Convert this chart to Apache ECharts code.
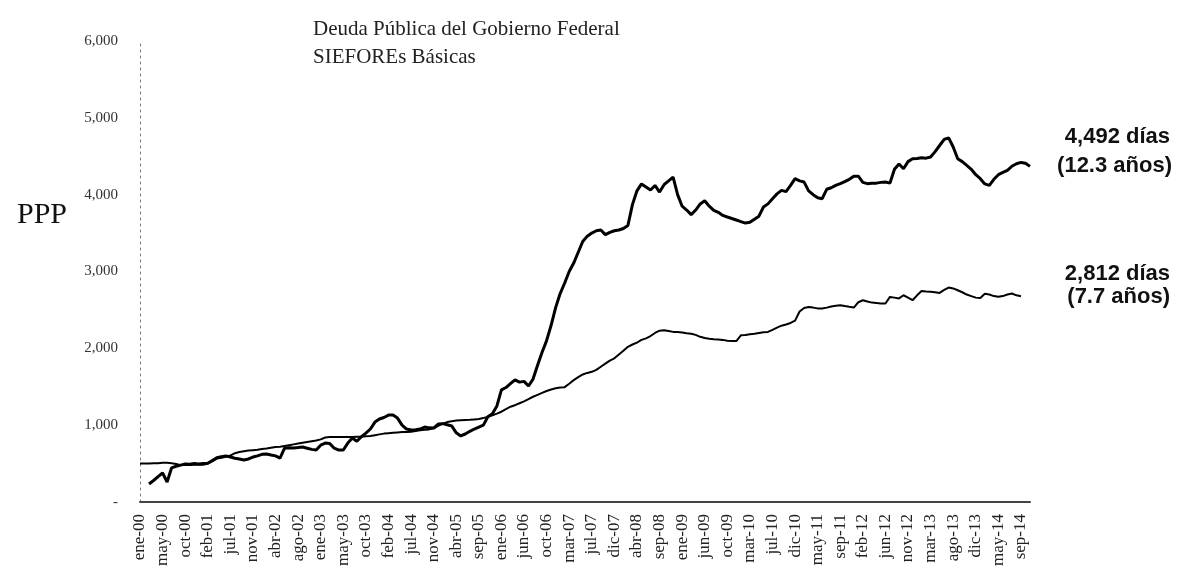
<!DOCTYPE html>
<html>
<head>
<meta charset="utf-8">
<title>Deuda Pública del Gobierno Federal - SIEFOREs Básicas</title>
<script src="https://cdn.jsdelivr.net/npm/echarts@6/dist/echarts.min.js"></script>
<style>
  html, body { margin: 0; padding: 0; background: #fff; }
  #chart { width: 1184px; height: 580px; }
</style>
</head>
<body>
<div id="chart"></div>
<script>
// etiquetas del eje x (una cada ~100 dias habiles)
var tickLabels = [
  'ene-00', 'may-00', 'oct-00', 'feb-01', 'jul-01', 'nov-01', 'abr-02', 'ago-02', 'ene-03', 'may-03',
  'oct-03', 'feb-04', 'jul-04', 'nov-04', 'abr-05', 'sep-05', 'ene-06', 'jun-06', 'oct-06', 'mar-07',
  'jul-07', 'dic-07', 'abr-08', 'sep-08', 'ene-09', 'jun-09', 'oct-09', 'mar-10', 'jul-10', 'dic-10',
  'may-11', 'sep-11', 'feb-12', 'jun-12', 'nov-12', 'mar-13', 'ago-13', 'dic-13', 'may-14', 'sep-14'
]
// puntos por intervalo entre etiquetas
var stepsPerTick = 5
var pointCount = 198

// plazo promedio ponderado (dias) - serie larga, mas volatil
var pppLargo = [
  null, null, 234, 280, 330, 377, 260, 445, 465, 480,
  494, 490, 500, 495, 500, 505, 540, 575, 590, 600,
  585, 570, 560, 546, 560, 585, 600, 620, 624, 611,
  600, 572, 700, 705, 702, 708, 715, 700, 685, 676,
  740, 767, 760, 700, 676, 676, 767, 832, 790, 850,
  897, 950, 1040, 1080, 1100, 1131, 1131, 1092, 1000, 949,
  936, 940, 950, 975, 965, 962, 1015, 1020, 1005, 990,
  900, 860, 885, 920, 950, 975, 1000, 1110, 1150, 1250,
  1460, 1490, 1540, 1590, 1560, 1570, 1510, 1600, 1780, 1950,
  2100, 2300, 2530, 2713, 2850, 3000, 3110, 3250, 3390, 3460,
  3500, 3530, 3540, 3480, 3510, 3530, 3540, 3560, 3600, 3870,
  4050, 4140, 4100, 4060, 4120, 4034, 4130, 4180, 4229, 4000,
  3850, 3800, 3740, 3800, 3880, 3920, 3850, 3796, 3770, 3730,
  3709, 3690, 3670, 3650, 3630, 3640, 3680, 3720, 3839, 3880,
  3948, 4010, 4056, 4040, 4120, 4208, 4180, 4164, 4050, 4000,
  3960, 3948, 4070, 4090, 4120, 4143, 4170, 4200, 4240, 4240,
  4160, 4143, 4150, 4150, 4160, 4164, 4150, 4330, 4400, 4338,
  4430, 4468, 4470, 4480, 4475, 4490, 4560, 4640, 4720, 4740,
  4620, 4468, 4430, 4380, 4330, 4260, 4208, 4140, 4121, 4200,
  4260, 4290, 4316, 4370, 4403, 4420, 4410, 4368
]

// plazo promedio ponderado (dias) - serie suavizada
var pppSuave = [
  500, 500, 500, 505, 505, 510, 510, 505, 495, 480,
  480, 480, 485, 485, 485, 500, 530, 565, 575, 590,
  605, 635, 650, 660, 670, 675, 680, 690, 695, 705,
  715, 720, 730, 740, 750, 760, 770, 780, 790, 800,
  815, 840, 845, 845, 845, 845, 845, 845, 850, 850,
  855, 860, 870, 880, 890, 895, 900, 905, 910, 910,
  915, 925, 935, 940, 945, 960, 990, 1020, 1040, 1050,
  1060, 1065, 1068, 1070, 1075, 1080, 1092, 1110, 1130, 1150,
  1175, 1210, 1240, 1260, 1285, 1310, 1340, 1370, 1395, 1420,
  1445, 1465, 1480, 1490, 1495, 1540, 1586, 1625, 1660, 1680,
  1694, 1720, 1760, 1800, 1840, 1870, 1920, 1970, 2020, 2050,
  2075, 2110, 2130, 2160, 2200, 2230, 2236, 2225, 2214, 2214,
  2205, 2195, 2190, 2175, 2150, 2135, 2125, 2118, 2115, 2110,
  2100, 2097, 2095, 2170, 2175, 2184, 2190, 2200, 2210, 2214,
  2240, 2270, 2295, 2310, 2330, 2360, 2480, 2525, 2539, 2530,
  2520, 2518, 2530, 2545, 2555, 2561, 2550, 2540, 2531, 2600,
  2626, 2610, 2595, 2590, 2585, 2583, 2669, 2660, 2650, 2691,
  2660, 2626, 2690, 2747, 2740, 2735, 2730, 2721, 2760, 2791,
  2780, 2756, 2730, 2700, 2680, 2660, 2655, 2710, 2700, 2680,
  2670, 2680, 2700, 2713, 2690, 2678, null, null
]

// categorias: la etiqueta y sus sub-periodos
var categories = []
for (var i = 0; i < pointCount; i++) {
  var base = tickLabels[Math.min(Math.floor(i / stepsPerTick), tickLabels.length - 1)]
  categories.push(i % stepsPerTick === 0 ? base : base + '+' + (i % stepsPerTick))
}

var serif = '"Liberation Serif", "DejaVu Serif", serif'
var sans = '"Liberation Sans", Arial, sans-serif'

var chart = echarts.init(document.getElementById('chart'))
chart.setOption({
  animation: false,
  backgroundColor: '#fff',
  grid: {
    left: 140,
    right: 154,
    top: 41,
    bottom: 78
  },
  xAxis: {
    type: 'category',
    data: categories,
    boundaryGap: false,
    axisLine: { lineStyle: { color: '#444', width: 2 } },
    axisTick: { show: false },
    axisLabel: {
      interval: stepsPerTick - 1,
      rotate: 90,
      margin: 12,
      fontFamily: serif,
      fontSize: 17,
      color: '#222',
      formatter: function (v) { return v.split('+')[0] }
    },
    splitLine: { show: false }
  },
  yAxis: {
    type: 'value',
    min: 0,
    max: 6000,
    interval: 1000,
    axisLine: { show: true, lineStyle: { color: '#777', width: 1, type: [2, 4] } },
    axisTick: { show: false },
    splitLine: { show: false },
    axisLabel: {
      margin: 22,
      fontFamily: serif,
      fontSize: 15,
      color: '#333',
      formatter: function (v) {
        return v === 0 ? '-' : v.toLocaleString('en-US')
      }
    }
  },
  series: [
    {
      name: '4,492 días',
      type: 'line',
      data: pppLargo,
      showSymbol: false,
      lineStyle: { color: '#000', width: 3 },
      itemStyle: { color: '#000' }
    },
    {
      name: '2,812 días',
      type: 'line',
      data: pppSuave,
      showSymbol: false,
      lineStyle: { color: '#000', width: 2 },
      itemStyle: { color: '#000' }
    }
  ],
  graphic: [
    // titulo
    {
      type: 'text', left: 313, top: 15,
      style: { text: 'Deuda Pública del Gobierno Federal\nSIEFOREs Básicas', font: '21px ' + serif, fill: '#222', lineHeight: 28 }
    },
    // nombre del eje y
    {
      type: 'text', left: 17, top: 200,
      style: { text: 'PPP', font: '30px ' + serif, fill: '#111' }
    },
    // anotaciones a la derecha
    { type: 'text', x: 1170, y: 137, style: { text: '4,492 días', font: 'bold 22px ' + sans, fill: '#111', align: 'right', verticalAlign: 'middle' } },
    { type: 'text', x: 1172, y: 166, style: { text: '(12.3 años)', font: 'bold 22px ' + sans, fill: '#111', align: 'right', verticalAlign: 'middle' } },
    { type: 'text', x: 1170, y: 274, style: { text: '2,812 días', font: 'bold 22px ' + sans, fill: '#111', align: 'right', verticalAlign: 'middle' } },
    { type: 'text', x: 1170, y: 297, style: { text: '(7.7 años)', font: 'bold 22px ' + sans, fill: '#111', align: 'right', verticalAlign: 'middle' } }
  ]
})
</script>
</body>
</html>
